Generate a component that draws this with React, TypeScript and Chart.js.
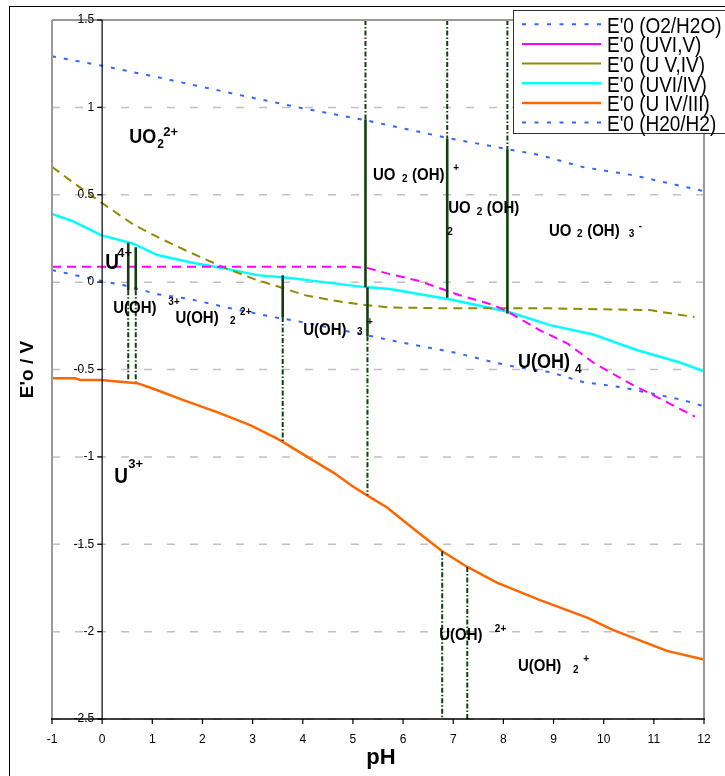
import React, { useEffect, useRef } from "react";
import { Chart, registerables } from "chart.js";

Chart.register(...registerables);

const FONT = '"Liberation Sans", Arial, sans-serif';

// ---- series names ----
const seriesNames = [
  "E'0 (O2/H2O)",
  "E'0 (UVI,V)",
  "E'0 (U V,IV)",
  "E'0 (UVI/IV)",
  "E'0 (U IV/III)",
  "E'0 (H20/H2)",
];

// ---- E0 (O2/H2O) ----
const phO2 = [-1, 0, 1.1, 2.75, 4.0, 5.24, 6.9, 8.08, 8.73, 9.59, 10.58, 11.92, 12];
const eO2 = [1.293, 1.238, 1.173, 1.07, 0.995, 0.927, 0.824, 0.761, 0.727, 0.658, 0.612, 0.526, 0.52];

// ---- E0 (UVI,V) ----
const phUVIV = [-1, 1, 3, 5.0, 5.3, 5.68, 6.34, 7.13, 7.79, 8.09, 8.72, 9.27, 9.79, 10.52, 11.18, 11.82];
const eUVIV = [0.088, 0.088, 0.088, 0.088, 0.08, 0.05, 0.005, -0.075, -0.13, -0.17, -0.275, -0.35, -0.46, -0.58, -0.675, -0.77];

// ---- E0 (U V,IV) ----
const phUVIVb = [-1, -0.58, -0.24, -0.04, 0.62, 1.16, 1.75, 2.41, 3.09, 3.3, 4.05, 4.6, 5.15, 5.74, 6.94, 8.93, 10.92, 11.81];
const eUVIVb = [0.66, 0.57, 0.5, 0.46, 0.33, 0.25, 0.17, 0.086, 0.011, -0.006, -0.075, -0.105, -0.128, -0.145, -0.15, -0.15, -0.16, -0.2];

// ---- E0 (UVI/IV) ----
const phUVI_IV = [-1, -0.6, -0.24, -0.04, 0.62, 1.1, 1.75, 2.41, 3.09, 3.75, 4.41, 5.28, 5.74, 6.94, 8.09, 8.93, 9.79, 10.67, 11.52, 12];
const eUVI_IV = [0.39, 0.35, 0.3, 0.27, 0.22, 0.155, 0.114, 0.08, 0.04, 0.023, 0.0, -0.03, -0.04, -0.1, -0.17, -0.246, -0.3, -0.39, -0.46, -0.51];

// ---- E0 (U IV/III) ----
const phUIV_III = [-1, -0.54, -0.44, -0.04, 0.7, 1.02, 1.62, 2.29, 2.95, 3.45, 3.61, 4.09, 4.61, 5.0, 5.28, 5.68, 6.2, 6.78, 7.28, 7.87, 8.73, 9.67, 10.18, 11.26, 12];
const eUIV_III = [-0.55, -0.55, -0.56, -0.56, -0.578, -0.61, -0.675, -0.744, -0.818, -0.89, -0.916, -1.0, -1.09, -1.17, -1.22, -1.29, -1.41, -1.54, -1.63, -1.72, -1.82, -1.92, -1.99, -2.11, -2.16];

// ---- E0 (H2O/H2) ----
const phH2 = [-1, 0, 0.42, 1.1, 1.75, 2.55, 3.41, 3.89, 5.08, 5.74, 7.08, 7.79, 8.27, 8.93, 9.59, 10.32, 10.92, 11.58, 12];
const eH2 = [0.069, 0.006, -0.017, -0.069, -0.097, -0.149, -0.2, -0.223, -0.292, -0.332, -0.406, -0.458, -0.486, -0.515, -0.572, -0.6, -0.635, -0.675, -0.71];

// ---- predominance boundaries (vertical lines) ----
const solidPH = [0.52, 0.67, 3.6, 5.25, 5.29, 6.88, 8.08];
const solidTop = [0.225, 0.2, 0.04, 0.93, -0.03, 0.82, 0.76];
const solidBottom = [-0.046, -0.046, -0.2, -0.03, -0.31, -0.09, -0.18];

const dashPH = [0.52, 0.67, 3.6, 5.29, 5.25, 6.88, 8.08, 6.78, 7.28];
const dashTop = [-0.046, -0.046, -0.2, -0.31, 1.5, 1.5, 1.5, -1.54, -1.63];
const dashBottom = [-0.56, -0.57, -0.916, -1.22, 0.93, 0.82, 0.76, -2.5, -2.5];

// ---- tick labels ----
const xTickLabels = ["-1", "0", "1", "2", "3", "4", "5", "6", "7", "8", "9", "10", "11", "12"];
const yTickLabels = ["1.5", "1", "0.5", "0", "-0.5", "-1", "-1.5", "-2", "-2.5"];

// ---- species labels (text pieces) ----
const annText = ["UO", "2", "2+", "U", "4+", "U(OH)", "3+", "U(OH)", "2", "2+", "U(OH)", "3", "+", "UO", "2", "(OH)", "+", "UO", "2", "(OH)", "2", "UO", "2", "(OH)", "3", "-", "U(OH)", "4", "U", "3+", "U(OH)", "2+", "U(OH)", "2", "+"];
const annPH = [0.54, 1.1, 1.22, 0.06, 0.3, 0.22, 1.32, 1.46, 2.55, 2.75, 4.01, 5.08, 5.28, 5.4, 5.98, 6.18, 7.0, 6.9, 7.47, 7.67, 6.88, 8.91, 9.47, 9.67, 10.5, 10.7, 8.29, 9.43, 0.24, 0.52, 6.72, 7.83, 8.29, 9.39, 9.59];
const annE = [0.83, 0.79, 0.86, 0.109, 0.166, -0.149, -0.114, -0.206, -0.223, -0.172, -0.275, -0.286, -0.229, 0.612, 0.589, 0.612, 0.652, 0.423, 0.4, 0.423, 0.286, 0.292, 0.275, 0.292, 0.275, 0.32, -0.458, -0.498, -1.116, -1.04, -2.02, -1.986, -2.197, -2.22, -2.157];
const annSize = [18, 12, 13, 19, 13, 15, 10, 15, 10, 10, 15, 10, 10, 15, 10, 15, 10, 15, 10, 15, 10, 15, 10, 15, 10, 10, 18, 12, 19, 13, 15, 10, 15, 10, 10];

const seriesStyles = [
  { color: "#3366ff", width: 2, dash: [4, 8], legendDash: [4, 8.5] },
  { color: "#ff00ff", width: 2, dash: [9, 6], legendDash: [] as number[] },
  { color: "#8c8c00", width: 2, dash: [9, 6], legendDash: [] as number[] },
  { color: "#00ffff", width: 2.5, dash: [] as number[], legendDash: [] as number[] },
  { color: "#ff6600", width: 2.5, dash: [] as number[], legendDash: [] as number[] },
  { color: "#3366ff", width: 2, dash: [4, 8], legendDash: [4, 8.5] },
];
const BOUNDARY = "#123f12";

function pts(xs: number[], ys: number[]) {
  return xs.map((x, i) => ({ x, y: ys[i] }));
}

function drawText(ctx: CanvasRenderingContext2D, s: string, x: number, y: number, size: number, weight: string, sy: number, align: CanvasTextAlign = "left") {
  ctx.save();
  ctx.translate(x, y);
  ctx.scale(1, sy);
  ctx.font = `${weight} ${size}px ${FONT}`;
  ctx.textAlign = align;
  ctx.textBaseline = "middle";
  ctx.fillText(s, 0, 0);
  ctx.restore();
}

function hLine(ctx: CanvasRenderingContext2D, x1: number, x2: number, y: number) {
  ctx.beginPath();
  ctx.moveTo(x1, y);
  ctx.lineTo(x2, y);
  ctx.stroke();
}
function vLine(ctx: CanvasRenderingContext2D, x: number, y1: number, y2: number) {
  ctx.beginPath();
  ctx.moveTo(x, y1);
  ctx.lineTo(x, y2);
  ctx.stroke();
}

const decor = {
  id: "decor",
  beforeDraw(chart: any) {
    const { ctx } = chart;
    ctx.save();
    ctx.fillStyle = "#fff";
    ctx.fillRect(0, 0, chart.width, chart.height);
    ctx.strokeStyle = "#000";
    ctx.lineWidth = 1;
    ctx.strokeRect(9.5, 6.5, chart.width + 20, chart.height + 20);
    ctx.restore();
  },
  beforeDatasetsDraw(chart: any) {
    const { ctx, chartArea: a } = chart;
    const ys = chart.scales.y;
    ctx.save();
    ctx.strokeStyle = "#c0c0c0";
    ctx.lineWidth = 1.5;
    ctx.setLineDash([8, 15]);
    for (const t of yTickLabels) {
      const y = ys.getPixelForValue(parseFloat(t));
      hLine(ctx, a.left, a.right, y);
    }
    ctx.restore();
  },
  afterDatasetsDraw(chart: any) {
    const { ctx, chartArea: a } = chart;
    const xs = chart.scales.x;
    const ys = chart.scales.y;
    ctx.save();
    ctx.setLineDash([]);
    ctx.strokeStyle = "#999";
    ctx.lineWidth = 2;
    vLine(ctx, a.left, a.top, a.bottom);
    vLine(ctx, a.right, a.top, a.bottom);
    hLine(ctx, a.left, a.right, a.top);
    const x0 = xs.getPixelForValue(0);
    const yb = ys.getPixelForValue(-2.5);
    ctx.strokeStyle = "#000";
    ctx.lineWidth = 1.2;
    vLine(ctx, x0, a.top, a.bottom);
    for (const t of yTickLabels) {
      const y = ys.getPixelForValue(parseFloat(t));
      hLine(ctx, x0 - 5, x0, y);
    }
    ctx.lineWidth = 1.5;
    hLine(ctx, a.left - 1, a.right + 1, yb);
    ctx.lineWidth = 1.2;
    for (const t of xTickLabels) {
      const x = xs.getPixelForValue(parseFloat(t));
      vLine(ctx, x, yb, yb + 5);
    }
    ctx.restore();
  },
  afterDraw(chart: any) {
    const { ctx } = chart;
    const xs = chart.scales.x;
    const ys = chart.scales.y;
    ctx.save();
    ctx.fillStyle = "#000";
    ctx.font = `12px ${FONT}`;
    ctx.textAlign = "center";
    ctx.textBaseline = "middle";
    const yAxisPix = ys.getPixelForValue(-2.5);
    xTickLabels.forEach((t) => ctx.fillText(t, xs.getPixelForValue(Number(t)), yAxisPix + 21));
    ctx.textAlign = "right";
    const x0 = xs.getPixelForValue(0);
    yTickLabels.forEach((t) => ctx.fillText(t, x0 - 8, ys.getPixelForValue(Number(t))));

    annText.forEach((t, i) => {
      const sz = annSize[i];
      drawText(ctx, t, xs.getPixelForValue(annPH[i]), ys.getPixelForValue(annE[i]), sz, "bold", sz >= 15 ? 1.15 : 1.05);
    });

    drawText(ctx, "pH", (chart.chartArea.left + chart.chartArea.right) / 2 + 3, 757.5, 22, "bold", 1.0, "center");
    ctx.save();
    ctx.translate(28, (chart.chartArea.top + chart.chartArea.bottom) / 2);
    ctx.rotate(-Math.PI / 2);
    ctx.font = `bold 19px ${FONT}`;
    ctx.textAlign = "center";
    ctx.textBaseline = "middle";
    ctx.fillText("E'o / V", 0, 0);
    ctx.restore();

    const lx = 513.5, ly = 10.5, lw = 240, lh = 123;
    ctx.fillStyle = "#fff";
    ctx.fillRect(lx, ly, lw, lh);
    ctx.strokeStyle = "#333";
    ctx.lineWidth = 1;
    ctx.strokeRect(lx, ly, lw, lh);
    seriesNames.forEach((name, i) => {
      const st = seriesStyles[i];
      const y = 24.3 + i * 19.65;
      ctx.save();
      ctx.strokeStyle = st.color;
      ctx.lineWidth = st.width;
      ctx.setLineDash(st.legendDash);
      hLine(ctx, 522, 601, y);
      ctx.restore();
      ctx.fillStyle = "#000";
      drawText(ctx, name, 607, y + 2, 19, "normal", 1.2);
    });
    ctx.restore();
  },
};

export default function App() {
  const ref = useRef<HTMLCanvasElement>(null);

  useEffect(() => {
    const canvas = ref.current!;
    Chart.defaults.font.family = FONT;
    const seriesData = [
      pts(phO2, eO2),
      pts(phUVIV, eUVIV),
      pts(phUVIVb, eUVIVb),
      pts(phUVI_IV, eUVI_IV),
      pts(phUIV_III, eUIV_III),
      pts(phH2, eH2),
    ];
    const datasets: any[] = [];
    solidPH.forEach((p, i) => {
      datasets.push({
        label: "",
        data: [{ x: p, y: solidTop[i] }, { x: p, y: solidBottom[i] }],
        borderColor: BOUNDARY,
        borderWidth: 2.6,
        showLine: true,
        pointRadius: 0,
      });
    });
    dashPH.forEach((p, i) => {
      datasets.push({
        label: "",
        data: [{ x: p, y: dashTop[i] }, { x: p, y: dashBottom[i] }],
        borderColor: BOUNDARY,
        borderWidth: 2,
        borderDash: [5, 2, 1.5, 2],
        showLine: true,
        pointRadius: 0,
      });
    });
    seriesNames.forEach((name, i) => {
      const st = seriesStyles[i];
      datasets.push({
        label: name,
        data: seriesData[i],
        borderColor: st.color,
        backgroundColor: st.color,
        borderWidth: st.width,
        borderDash: st.dash,
        showLine: true,
        pointRadius: 0,
        fill: false,
        tension: 0,
      });
    });

    const chart = new Chart(canvas, {
      type: "scatter",
      data: { datasets },
      options: {
        responsive: false,
        animation: false,
        devicePixelRatio: 1,
        layout: { padding: { left: 52, top: 20, right: 21, bottom: 57 } },
        plugins: { legend: { display: false }, tooltip: { enabled: false } },
        scales: {
          x: {
            type: "linear",
            display: false,
            min: -1,
            max: 12,
            ticks: { stepSize: 1 },
          },
          y: {
            type: "linear",
            display: false,
            min: -2.5,
            max: 1.5,
            ticks: { stepSize: 0.5 },
          },
        },
      } as any,
      plugins: [decor],
    });
    return () => chart.destroy();
  }, []);

  return (
    <div style={{ position: "fixed", left: 0, top: 0, width: 725, height: 776, background: "#fff" }}>
      <canvas ref={ref} width={725} height={776} style={{ display: "block", width: 725, height: 776 }} />
    </div>
  );
}
